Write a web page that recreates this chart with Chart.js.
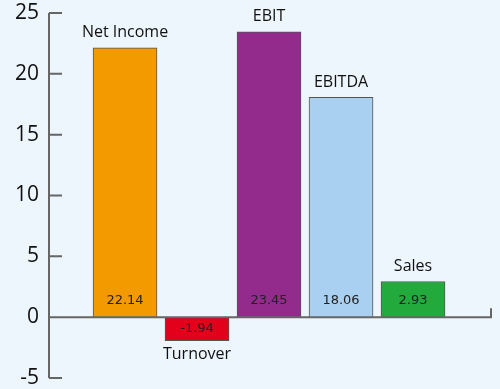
<!DOCTYPE html>
<html>
<head>
<meta charset="utf-8">
<script src="https://cdn.jsdelivr.net/npm/chart.js@4"></script>
<style>
  html, body { margin: 0; padding: 0; background: #edf6fc; }
  #box { width: 500px; height: 389px; position: relative; }
</style>
</head>
<body>
<div id="box"><canvas id="grafico"></canvas></div>
<script>
const categorias = ['Net Income', 'Turnover', 'EBIT', 'EBITDA', 'Sales'];
const valores = [22.14, -1.94, 23.45, 18.06, 2.93];
const cores = ['#f39a00', '#e2001a', '#922b8c', '#a9d0f0', '#22aa3c'];
const ticksY = [-5, 0, 5, 10, 15, 20, 25];

// eixos desenhados a mao: linha vertical, marcas para dentro e linha do zero
const eixos = {
  id: 'eixos',
  afterDatasetsDraw(chart) {
    const ctx = chart.ctx;
    const y = chart.scales.y;
    const area = chart.chartArea;
    ctx.save();
    ctx.strokeStyle = '#666';
    ctx.lineWidth = 2;
    ctx.beginPath();
    ctx.moveTo(area.left, y.getPixelForValue(25));
    ctx.lineTo(area.left, y.getPixelForValue(-5));
    ticksY.forEach(t => {
      const py = y.getPixelForValue(t);
      ctx.moveTo(area.left, py);
      ctx.lineTo(area.left + 13, py);
    });
    const zero = y.getPixelForValue(0);
    ctx.moveTo(area.left, zero);
    ctx.lineTo(area.right, zero);
    ctx.lineTo(area.right, zero - 9);
    ctx.stroke();

    // numeros do eixo y
    ctx.textAlign = 'right';
    ctx.textBaseline = 'middle';
    ctx.fillStyle = '#111';
    ctx.font = '21px "Open Sans"';
    ticksY.forEach(t => {
      ctx.fillText(String(t), area.left - 10, y.getPixelForValue(t));
    });

    // rotulos das barras
    const meta = chart.getDatasetMeta(0);
    meta.data.forEach((bar, i) => {
      const v = valores[i];
      ctx.textAlign = 'center';
      ctx.textBaseline = 'middle';
      ctx.fillStyle = '#111';
      ctx.font = '16px "Open Sans"';
      if (v >= 0) {
        ctx.fillText(categorias[i], bar.x, bar.y - 15);
      } else {
        ctx.fillText(categorias[i], bar.x, bar.y + 14);
      }
      ctx.font = '13px "DejaVu Sans"';
      ctx.fillStyle = '#222';
      const vy = v >= 0 ? zero - 17 : (zero + bar.y) / 2;
      ctx.fillText(v.toFixed(2), bar.x, vy);
    });
    ctx.restore();
  }
};

new Chart(document.getElementById('grafico'), {
  type: 'bar',
  data: {
    datasets: [{
      data: valores.map((v, i) => ({ x: i, y: v })),
      backgroundColor: cores,
      borderColor: '#555',
      borderWidth: 1,
      barThickness: 64
    }]
  },
  options: {
    responsive: true,
    maintainAspectRatio: false,
    animation: false,
    layout: { padding: { top: 13, right: 9, bottom: 11, left: 49 } },
    plugins: {
      legend: { display: false },
      tooltip: { enabled: false }
    },
    scales: {
      x: {
        type: 'linear',
        offset: false,
        min: -1.056,
        max: 5.083,
        display: false
      },
      y: {
        min: -5,
        max: 25,
        display: false
      }
    }
  },
  plugins: [eixos]
});
</script>
</body>
</html>
